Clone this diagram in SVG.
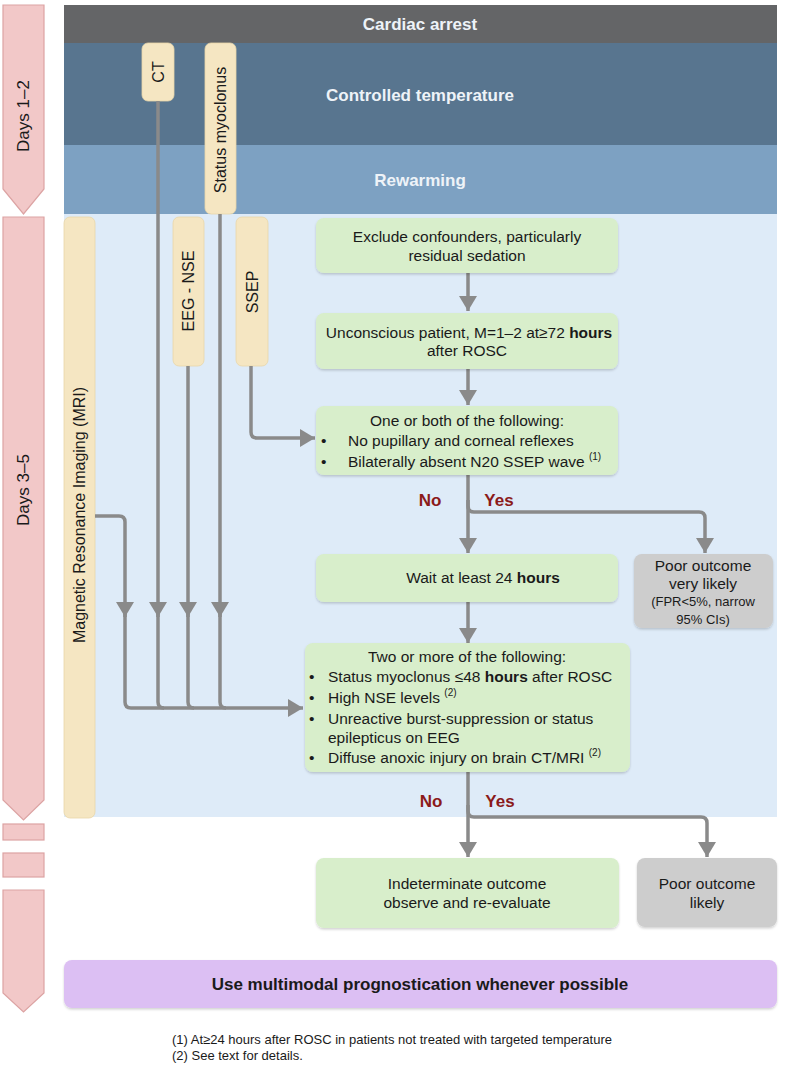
<svg xmlns="http://www.w3.org/2000/svg" width="787" height="1065" viewBox="0 0 787 1065">
<defs>
<style>
text{font-family:"Liberation Sans",Arial,sans-serif;fill:#1a1a1a}
.band{font-weight:bold;font-size:17px;fill:#eef3f8;text-anchor:middle}
.day{fill:#f2c8c8;stroke:#dca3a3;stroke-width:1.2}
.tan{fill:#f5e6c2;stroke:#e9d6a8;stroke-width:0.8}
.vt{font-size:16px;text-anchor:middle}
.green{fill:#d8eecb;filter:url(#sh)}
.grey{fill:#cdcdcd;filter:url(#sh)}
.t{font-size:15.5px}
.c{text-anchor:middle}
.sm{font-size:13px}
.sup{font-size:10px}
.yn{font-weight:bold;font-size:17px;fill:#8b1a1a;text-anchor:middle}
.ln{fill:none;stroke:#8a8a8a;stroke-width:3.5}
.fn{font-size:13px}
</style>
<filter id="sh" x="-5%" y="-5%" width="110%" height="115%">
<feDropShadow dx="0" dy="1.5" stdDeviation="1.2" flood-color="#000" flood-opacity="0.18"/>
</filter>
<marker id="ah" markerUnits="userSpaceOnUse" markerWidth="16" markerHeight="18" refX="15" refY="9" orient="auto" viewBox="0 0 16 18">
<path d="M0,0 L15,9 L0,18 z" fill="#8a8a8a"/>
</marker>
</defs>
<rect width="787" height="1065" fill="#ffffff"/>

<!-- day arrows -->
<g id="days12">
<path class="day" d="M3,5 H44 V189 L23.5,214 L3,189 Z"/>
<text transform="translate(29,116) rotate(-90)" font-size="17" text-anchor="middle">Days 1–2</text>
</g>
<g id="days35">
<path class="day" d="M3,217 H44 V800 L23.5,820 L3,800 Z"/>
<text transform="translate(29,490) rotate(-90)" font-size="17" text-anchor="middle">Days 3–5</text>
</g>
<g id="daysgap">
<rect class="day" x="3" y="824" width="41" height="16"/>
<rect class="day" x="3" y="853" width="41" height="24"/>
<path class="day" d="M3,890 H44 V993 L23.5,1012 L3,993 Z"/>
</g>

<!-- bands -->
<g id="band-cardiac">
<rect x="64" y="5" width="713" height="38" fill="#646567"/>
<text class="band" x="420" y="30" fill="#ffffff">Cardiac arrest</text>
</g>
<g id="band-controlled">
<rect x="64" y="43" width="713" height="102" fill="#58758f"/>
<text class="band" x="420" y="101">Controlled temperature</text>
</g>
<g id="band-rewarming">
<rect x="64" y="145" width="713" height="69" fill="#7da1c2"/>
<text class="band" x="420" y="186">Rewarming</text>
</g>
<rect id="panel" x="64" y="214" width="713" height="603" fill="#deebf8"/>

<!-- tan test boxes -->
<g id="ct">
<rect class="tan" x="142" y="43" width="32" height="58" rx="6"/>
<text class="vt" transform="translate(163.5,72) rotate(-90)">CT</text>
</g>
<g id="status-myoclonus">
<rect class="tan" x="205" y="43" width="31" height="171" rx="6"/>
<text class="vt" transform="translate(226,130) rotate(-90)">Status myoclonus</text>
</g>
<g id="mri">
<rect class="tan" x="64" y="217" width="31" height="601" rx="6"/>
<text class="vt" transform="translate(85,515) rotate(-90)">Magnetic Resonance Imaging (MRI)</text>
</g>
<g id="eeg-nse">
<rect class="tan" x="173" y="217" width="31" height="149" rx="6"/>
<text class="vt" transform="translate(194,291) rotate(-90)">EEG - NSE</text>
</g>
<g id="ssep">
<rect class="tan" x="236" y="217" width="32" height="149" rx="6"/>
<text class="vt" transform="translate(257.5,292) rotate(-90)">SSEP</text>
</g>

<!-- connectors -->
<g id="connectors">
<path class="ln" d="M95,516 H119 Q125,516 125,522 V617" marker-end="url(#ah)"/>
<path class="ln" d="M158,101 V617" marker-end="url(#ah)"/>
<path class="ln" d="M188,366 V617" marker-end="url(#ah)"/>
<path class="ln" d="M220,214 V617" marker-end="url(#ah)"/>
<path class="ln" d="M125,610 V702 Q125,708 131,708 H303" marker-end="url(#ah)"/>
<path class="ln" d="M158,610 V702 Q158,708 164,708"/>
<path class="ln" d="M188,610 V702 Q188,708 194,708"/>
<path class="ln" d="M220,610 V702 Q220,708 226,708"/>
<path class="ln" d="M251,366 V432 Q251,438 257,438 H315" marker-end="url(#ah)"/>
<path class="ln" d="M468,273 V311" marker-end="url(#ah)"/>
<path class="ln" d="M468,369 V405" marker-end="url(#ah)"/>
<path class="ln" d="M468,475 V553" marker-end="url(#ah)"/>
<path class="ln" d="M468,500 V506 Q468,512 474,512 H699 Q705,512 705,518 V553" marker-end="url(#ah)"/>
<path class="ln" d="M468,602 V643" marker-end="url(#ah)"/>
<path class="ln" d="M468,772 V857" marker-end="url(#ah)"/>
<path class="ln" d="M468,805 V811 Q468,817 474,817 H701 Q707,817 707,823 V857" marker-end="url(#ah)"/>
<text class="yn" x="430" y="506">No</text>
<text class="yn" x="499" y="506">Yes</text>
<text class="yn" x="431" y="807">No</text>
<text class="yn" x="500" y="807">Yes</text>
</g>

<!-- flow nodes -->
<g id="exclude">
<rect class="green" x="316" y="218" width="302" height="55" rx="8"/>
<text class="t c" x="467" y="241.5">Exclude confounders, particularly</text>
<text class="t c" x="467" y="260.5">residual sedation</text>
</g>
<g id="unconscious">
<rect class="green" x="316" y="313" width="302" height="56" rx="8"/>
<text class="t c" x="469" y="337.5">Unconscious patient,  M=1–2 at≥72 <tspan font-weight="bold">hours</tspan></text>
<text class="t c" x="467" y="355.5">after ROSC</text>
</g>
<g id="one-or-both">
<rect class="green" x="316" y="406" width="302" height="69" rx="8"/>
<text class="t c" x="467" y="425.5">One or both of the following:</text>
<text class="t" x="321" y="445.5">•</text>
<text class="t" x="348" y="445.5">No pupillary and corneal reflexes</text>
<text class="t" x="321" y="466.5">•</text>
<text class="t" x="348" y="466.5">Bilaterally absent N20 SSEP wave <tspan class="sup" dy="-7">(1)</tspan></text>
</g>
<g id="wait">
<rect class="green" x="316" y="554" width="302" height="48" rx="8"/>
<text class="t c" x="483" y="582.5">Wait at least 24 <tspan font-weight="bold">hours</tspan></text>
</g>
<g id="poor-very-likely">
<rect class="grey" x="634" y="554" width="139" height="74" rx="8"/>
<text class="t c" x="703" y="570.5">Poor outcome</text>
<text class="t c" x="703" y="589">very likely</text>
<text class="sm c" x="703" y="606">(FPR&lt;5%, narrow</text>
<text class="sm c" x="703" y="624">95% CIs)</text>
</g>
<g id="two-or-more">
<rect class="green" x="305" y="643" width="325" height="129" rx="8"/>
<text class="t c" x="467" y="661.5">Two or more of the following:</text>
<text class="t" x="309" y="681.5">•</text>
<text class="t" x="328" y="681.5">Status myoclonus ≤48 <tspan font-weight="bold">hours</tspan>  after ROSC</text>
<text class="t" x="309" y="702.5">•</text>
<text class="t" x="328" y="702.5">High NSE levels <tspan class="sup" dy="-7">(2)</tspan></text>
<text class="t" x="309" y="723.5">•</text>
<text class="t" x="328" y="723.5">Unreactive burst-suppression or status</text>
<text class="t" x="328" y="742.5">epilepticus on EEG</text>
<text class="t" x="309" y="762.5">•</text>
<text class="t" x="328" y="762.5">Diffuse anoxic injury on brain CT/MRI <tspan class="sup" dy="-7">(2)</tspan></text>
</g>
<g id="indeterminate">
<rect class="green" x="316" y="858" width="303" height="70" rx="8"/>
<text class="t c" x="467" y="888.5">Indeterminate outcome</text>
<text class="t c" x="467" y="907.5">observe and re-evaluate</text>
</g>
<g id="poor-likely">
<rect class="grey" x="637" y="858" width="140" height="69" rx="8"/>
<text class="t c" x="707" y="888.5">Poor outcome</text>
<text class="t c" x="707" y="907.5">likely</text>
</g>
<g id="multimodal">
<rect x="64" y="960" width="713" height="48" rx="8" fill="#dcbff3" filter="url(#sh)"/>
<text x="420" y="990" font-size="17" font-weight="bold" text-anchor="middle">Use multimodal prognostication whenever possible</text>
</g>
<g id="footnotes">
<text class="fn" x="172" y="1043.5">(1) At≥24 hours after ROSC in patients not treated with targeted temperature</text>
<text class="fn" x="172" y="1060">(2) See text for details.</text>
</g>
</svg>
